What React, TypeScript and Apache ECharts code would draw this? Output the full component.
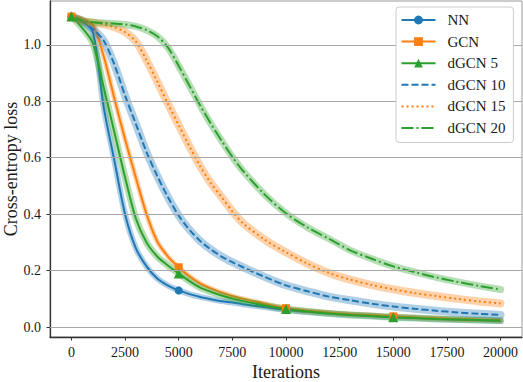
import React, { useEffect, useRef } from "react";
import * as echarts from "echarts";

const iterations = [
  0, 500, 1000, 1500, 2000, 2500, 3000, 3500, 4000, 4500, 5000, 5500, 6000, 6500, 7000, 7500, 8000,
  9000, 10000, 11000, 12000, 13000, 14000, 15000, 16000, 17000, 18000, 19000, 20000,
];

const nnLoss = [
  1.1, 1.083, 1.045, 0.78, 0.59, 0.4, 0.28, 0.215, 0.172, 0.147, 0.13, 0.117, 0.107, 0.099, 0.092, 0.087, 0.081,
  0.071, 0.061, 0.054, 0.048, 0.043, 0.039, 0.035, 0.032, 0.029, 0.026, 0.024, 0.022,
];
const gcnLoss = [
  1.1, 1.09, 1.07, 0.96, 0.81, 0.665, 0.53, 0.4, 0.303, 0.25, 0.212, 0.18, 0.155, 0.137, 0.122, 0.11, 0.1,
  0.083, 0.067, 0.058, 0.051, 0.046, 0.042, 0.038, 0.034, 0.031, 0.028, 0.026, 0.024,
];
const dgcn5Loss = [
  1.1, 1.06, 1.005, 0.85, 0.69, 0.53, 0.385, 0.3, 0.25, 0.218, 0.19, 0.163, 0.14, 0.125, 0.112, 0.101, 0.092,
  0.077, 0.064, 0.055, 0.048, 0.043, 0.039, 0.035, 0.032, 0.029, 0.027, 0.025, 0.023,
];
const dgcn10Loss = [
  1.1, 1.085, 1.056, 1.015, 0.93, 0.82, 0.72, 0.62, 0.535, 0.46, 0.395, 0.345, 0.305, 0.275, 0.25, 0.23, 0.212,
  0.178, 0.148, 0.127, 0.108, 0.095, 0.083, 0.073, 0.065, 0.058, 0.052, 0.047, 0.043,
];
const dgcn15Loss = [
  1.1, 1.085, 1.078, 1.072, 1.062, 1.045, 1.012, 0.945, 0.87, 0.79, 0.715, 0.64, 0.57, 0.51, 0.46, 0.41, 0.368,
  0.31, 0.265, 0.225, 0.192, 0.168, 0.149, 0.134, 0.121, 0.11, 0.1, 0.091, 0.084,
];
const dgcn20Loss = [
  1.1, 1.085, 1.08, 1.077, 1.075, 1.072, 1.065, 1.052, 1.03, 0.99, 0.925, 0.855, 0.785, 0.72, 0.66, 0.603, 0.553,
  0.47, 0.403, 0.353, 0.313, 0.272, 0.242, 0.215, 0.195, 0.176, 0.16, 0.146, 0.133,
];

const seriesNames = ["NN", "GCN", "dGCN 5", "dGCN 10", "dGCN 15", "dGCN 20"];
const markerIterations = [0, 5000, 10000, 15000];
const xTicks = [0, 2500, 5000, 7500, 10000, 12500, 15000, 17500, 20000];
const yTicks = [0, 0.2, 0.4, 0.6, 0.8, 1.0];

const BLUE = "#1f77b4";
const ORANGE = "#ff7f0e";
const GREEN = "#2ca02c";
const FONT = "Liberation Serif";
const TEXT = "#1a1a1a";

const styles = [
  { values: nnLoss, color: BLUE, dash: "solid" as any, symbol: "circle", size: 8, band: 6 },
  { values: gcnLoss, color: ORANGE, dash: "solid" as any, symbol: "rect", size: 8, band: 5 },
  { values: dgcn5Loss, color: GREEN, dash: "solid" as any, symbol: "triangle", size: 10, band: 7 },
  { values: dgcn10Loss, color: BLUE, dash: [7, 3] as any, symbol: "none", size: 0, band: 8 },
  { values: dgcn15Loss, color: ORANGE, dash: [2, 3] as any, symbol: "none", size: 0, band: 8 },
  { values: dgcn20Loss, color: GREEN, dash: [12, 3, 2, 3] as any, symbol: "none", size: 0, band: 7 },
];

export default function App() {
  const ref = useRef<HTMLDivElement>(null);
  useEffect(() => {
    document.body.style.margin = "0";
    if (!ref.current) return;
    const chart = echarts.init(ref.current, null, { renderer: "svg" });

    const series: any[] = [
      {
        type: "line",
        name: "gridlines",
        data: [],
        silent: true,
        z: 1,
        markLine: {
          silent: true,
          symbol: ["none", "none"],
          label: { show: false },
          lineStyle: { color: "#a8a8a8", width: 1, type: "solid" },
          data: yTicks.map((v) => ({ yAxis: v })),
        },
      },
    ];

    styles.forEach((s, idx) => {
      const name = seriesNames[idx];
      series.push({
        type: "line",
        name: name + " band",
        data: iterations.map((x, i) => [x, s.values[i]]),
        symbol: "none",
        smooth: 0.3,
        silent: true,
        z: 2,
        lineStyle: { color: s.color, width: s.band, opacity: 0.35, cap: "round", join: "round" },
      });
      series.push({
        type: "line",
        name,
        data: iterations.map((x, i) =>
          s.symbol !== "none" && markerIterations.includes(x)
            ? { value: [x, s.values[i]] }
            : { value: [x, s.values[i]], symbol: "none" }
        ),
        symbol: s.symbol,
        symbolSize: s.size,
        showSymbol: true,
        showAllSymbol: true,
        smooth: 0.3,
        z: 2,
        itemStyle: { color: s.color, borderWidth: 0 },
        lineStyle: { color: s.color, width: 2, type: s.dash },
      });
    });

    chart.setOption({
      animation: false,
      grid: {
        left: 50,
        right: 1,
        top: 1,
        bottom: 45,
        show: true,
        borderColor: "#9a9a9a",
        borderWidth: 1,
        backgroundColor: "transparent",
        containLabel: false,
        outerBoundsMode: "none",
      },
      legend: {
        data: seriesNames.map((n, i) =>
          styles[i].symbol === "none" ? { name: n, itemStyle: { opacity: 0 } } : { name: n }
        ),
        orient: "vertical",
        left: 396,
        top: 7,
        padding: [5.5, 8, 7, 4.5],
        itemGap: 6.6,
        itemWidth: 34,
        itemHeight: 11,
        backgroundColor: "#ffffff",
        borderColor: "#cccccc",
        borderWidth: 1,
        borderRadius: 3,
        z: 10,
        textStyle: { fontFamily: FONT, fontSize: 15, color: TEXT, padding: [0, 0, 0, 7] },
      },
      xAxis: {
        type: "value",
        min: -1000,
        max: 21000,
        name: "Iterations",
        nameLocation: "middle",
        nameGap: 26,
        nameMoveOverlap: false,
        nameTextStyle: { fontFamily: FONT, fontSize: 18, color: TEXT },
        axisLine: { show: true, onZero: false, lineStyle: { color: "#333", width: 1.3 } },
        axisTick: { show: true, customValues: xTicks, length: 3.5, lineStyle: { color: "#333", width: 1 } },
        axisLabel: {
          customValues: xTicks,
          fontFamily: FONT,
          fontSize: 14,
          color: TEXT,
          margin: 8,
          formatter: (v: number) => String(Math.round(v)),
        },
        splitLine: { show: false },
      },
      yAxis: {
        type: "value",
        min: -0.035,
        max: 1.155,
        name: "Cross-entropy loss",
        nameLocation: "middle",
        nameGap: 30,
        nameMoveOverlap: false,
        nameTextStyle: { fontFamily: FONT, fontSize: 18, color: TEXT },
        axisLine: { show: true, onZero: false, lineStyle: { color: "#333", width: 1.3 } },
        axisTick: { show: true, customValues: yTicks, length: 3.5, lineStyle: { color: "#333", width: 1 } },
        axisLabel: {
          customValues: yTicks,
          fontFamily: FONT,
          fontSize: 14,
          color: TEXT,
          margin: 9,
          formatter: (v: number) => v.toFixed(1),
        },
        splitLine: { show: false },
      },
      series,
    });
    return () => chart.dispose();
  }, []);
  return <div ref={ref} style={{ width: 523, height: 382 }} />;
}
